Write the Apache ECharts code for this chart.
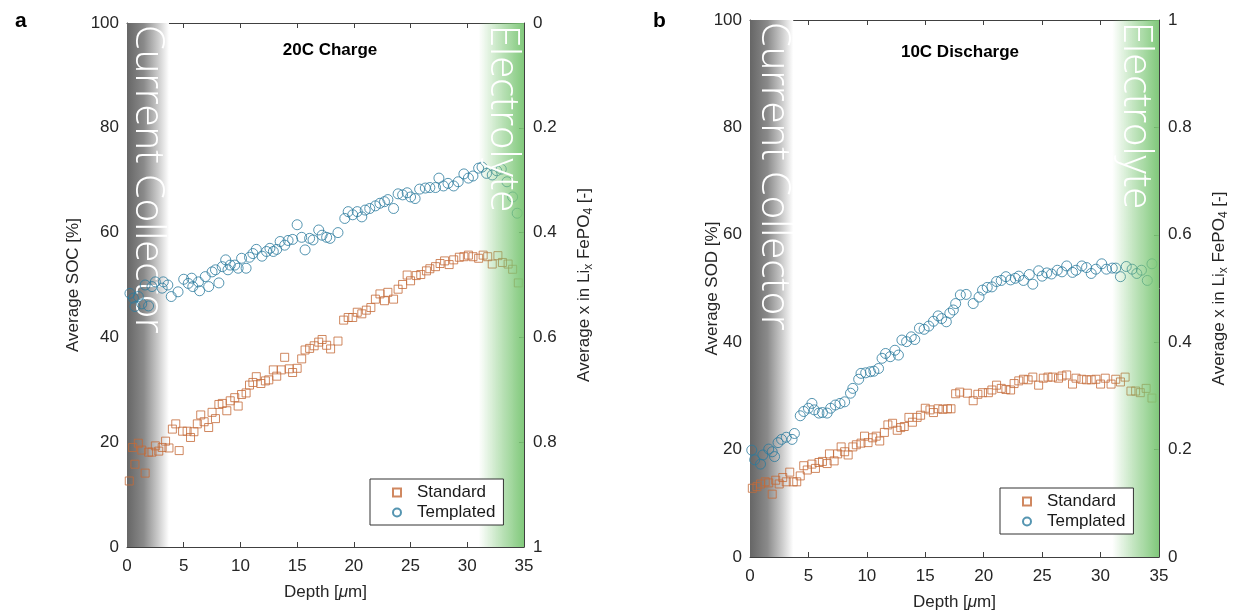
<!DOCTYPE html>
<html>
<head>
<meta charset="utf-8">
<script src="https://cdn.jsdelivr.net/npm/echarts@6/dist/echarts.min.js"></script>
<style>
  html, body { margin: 0; padding: 0; background: #fff; }
  #main { width: 1237px; height: 616px; }
</style>
</head>
<body>
<div id="main"></div>
<script>
// panel a - 20C charge
var depthA_std = [0.2, 0.5, 0.7, 1.0, 1.3, 1.6, 1.9, 2.2, 2.5, 2.8, 3.1, 3.4, 3.7, 4.0, 4.3, 4.6, 4.9, 5.3, 5.6, 5.9,
  6.2, 6.5, 6.8, 7.2, 7.5, 7.8, 8.1, 8.4, 8.8, 9.1, 9.5, 9.8, 10.1, 10.5, 10.8, 11.1, 11.4, 11.8, 12.2, 12.5,
  12.9, 13.2, 13.6, 13.9, 14.3, 14.6, 15.0, 15.4, 15.7, 16.1, 16.5, 16.9, 17.2, 17.6, 17.95, 18.6, 19.1, 19.5, 19.9, 20.3,
  20.7, 21.1, 21.5, 21.9, 22.3, 22.7, 23.0, 23.5, 23.9, 24.3, 24.7, 25.0, 25.5, 25.9, 26.4, 26.7, 27.2, 27.6, 28.0, 28.4,
  28.8, 29.3, 29.7, 30.1, 30.5, 31.0, 31.4, 31.8, 32.2, 32.7, 33.1, 33.6, 34.0, 34.5];
var socA_std = [12.6, 19.0, 15.8, 19.8, 18.5, 14.1, 18.1, 18.1, 19.3, 18.3, 19.0, 20.2, 18.9, 22.5, 23.5, 18.4, 22.1, 22.1, 20.9, 22.0,
  23.5, 25.2, 23.9, 22.8, 25.7, 24.5, 27.2, 27.4, 26.0, 27.9, 28.5, 26.9, 29.1, 29.4, 30.9, 31.4, 32.5, 31.2, 31.7, 31.9,
  33.8, 32.6, 33.8, 36.2, 34.0, 33.3, 34.1, 35.9, 37.6, 37.9, 38.4, 39.1, 39.6, 38.5, 37.8, 39.3, 43.3, 43.8, 43.8, 44.8,
  44.5, 45.2, 45.7, 47.3, 48.3, 47.0, 48.6, 47.3, 49.2, 50.1, 51.9, 50.8, 51.8, 52.0, 52.7, 53.1, 53.5, 54.1, 54.6, 53.9,
  54.8, 55.3, 55.4, 55.7, 55.4, 55.1, 55.7, 55.4, 54.0, 55.6, 54.3, 54.0, 53.0, 50.4];
var depthA_tpl = [0.26, 0.56, 0.7, 1.0, 1.3, 1.6, 1.9, 2.2, 2.5, 3.1, 3.2, 3.6, 3.9, 4.5, 5.0, 5.4, 5.7, 5.8, 6.3, 6.4,
  6.9, 7.2, 7.5, 7.8, 8.1, 8.4, 8.7, 8.9, 9.1, 9.5, 9.8, 10.1, 10.5, 10.8, 11.1, 11.4, 11.9, 12.3, 12.6, 12.9,
  13.2, 13.5, 13.9, 14.2, 14.6, 15.0, 15.4, 15.7, 16.1, 16.4, 16.9, 17.2, 17.6, 17.9, 18.6, 19.2, 19.5, 19.9, 20.3, 20.7,
  21.0, 21.4, 21.9, 22.3, 22.7, 23.0, 23.5, 23.9, 24.3, 24.7, 25.0, 25.4, 25.8, 26.3, 26.7, 27.2, 27.5, 27.9, 28.3, 28.8,
  29.2, 29.7, 30.1, 30.5, 31.0, 31.3, 31.7, 32.2, 32.6, 33.0, 33.5, 34.0, 34.4];
var socA_tpl = [48.4, 47.5, 45.9, 47.8, 46.4, 50.0, 46.0, 49.7, 50.6, 49.4, 50.6, 50.0, 47.8, 48.7, 51.1, 50.3, 51.3, 49.7, 50.6, 48.9,
  51.6, 49.7, 52.5, 52.9, 50.4, 53.5, 54.8, 52.9, 53.8, 53.8, 53.2, 55.1, 53.2, 55.3, 56.0, 56.8, 55.5, 56.4, 57.0, 56.4,
  56.8, 58.3, 57.6, 58.5, 58.7, 61.5, 59.1, 56.7, 58.9, 58.6, 60.5, 59.5, 59.1, 58.9, 60.0, 62.7, 64.0, 63.4, 64.0, 63.0,
  64.3, 64.6, 65.1, 65.6, 65.9, 66.3, 64.6, 67.4, 67.2, 67.6, 66.8, 66.5, 68.3, 68.5, 68.6, 68.6, 70.4, 68.9, 69.4, 68.9,
  69.7, 71.2, 70.4, 70.8, 72.3, 72.5, 71.3, 71.0, 71.8, 72.1, 69.7, 66.8, 63.7];

// panel b - 10C discharge
var depthB_std = [0.2, 0.6, 0.9, 1.3, 1.6, 1.9, 2.2, 2.5, 2.8, 3.1, 3.4, 3.7, 4.0, 4.3, 4.6, 4.9, 5.3, 5.6, 5.9, 6.2,
  6.6, 6.8, 7.2, 7.5, 7.8, 8.1, 8.4, 8.8, 9.1, 9.5, 9.8, 10.1, 10.5, 10.8, 11.1, 11.5, 11.8, 12.2, 12.6, 12.9,
  13.2, 13.6, 13.9, 14.3, 14.6, 15.0, 15.4, 15.7, 16.1, 16.5, 16.9, 17.2, 17.6, 17.95, 18.6, 19.1, 19.5, 19.9, 20.4, 20.7,
  21.1, 21.5, 21.9, 22.3, 22.6, 23.0, 23.4, 23.8, 24.2, 24.7, 25.1, 25.5, 25.9, 26.4, 26.7, 27.1, 27.6, 27.9, 28.4, 28.8,
  29.2, 29.6, 30.0, 30.4, 30.9, 31.3, 31.7, 32.1, 32.6, 33.0, 33.4, 33.9, 34.4];
var sodB_std = [12.8, 13.1, 13.6, 14.0, 13.8, 11.7, 14.3, 13.6, 14.8, 14.0, 15.8, 14.0, 14.0, 15.1, 17.0, 16.2, 17.3, 16.5, 17.6, 17.8,
  17.4, 19.2, 17.9, 19.2, 20.5, 19.6, 19.0, 20.5, 20.9, 21.2, 22.5, 21.3, 22.2, 22.5, 21.6, 23.2, 24.6, 24.9, 23.6, 24.1,
  24.3, 26.0, 25.1, 26.0, 26.4, 27.7, 27.4, 26.9, 27.6, 27.5, 27.6, 27.6, 30.4, 30.7, 30.5, 29.1, 30.3, 30.6, 30.6, 31.1,
  32.0, 31.4, 31.2, 31.1, 32.3, 32.8, 33.1, 33.0, 33.5, 32.0, 33.3, 33.5, 33.5, 33.3, 33.7, 33.9, 32.2, 33.3, 33.1, 33.0,
  33.0, 33.1, 32.2, 33.3, 32.2, 33.1, 32.6, 33.5, 30.9, 30.9, 30.6, 31.4, 29.6];
var depthB_tpl = [0.15, 0.4, 0.9, 1.1, 1.6, 1.9, 2.1, 2.4, 2.7, 3.1, 3.6, 3.8, 4.3, 4.6, 5.0, 5.3, 5.5, 5.9, 6.2, 6.6,
  6.9, 7.3, 7.7, 8.1, 8.6, 8.8, 9.3, 9.5, 9.9, 10.3, 10.6, 11.0, 11.3, 11.6, 12.0, 12.4, 12.7, 13.0, 13.4, 13.8,
  14.1, 14.5, 14.9, 15.3, 15.7, 16.1, 16.4, 16.8, 17.1, 17.4, 17.6, 18.0, 18.5, 19.1, 19.6, 19.9, 20.3, 20.7, 21.1, 21.5,
  21.9, 22.3, 22.7, 23.0, 23.4, 23.9, 24.2, 24.7, 25.0, 25.4, 25.8, 26.3, 26.7, 27.1, 27.6, 27.9, 28.4, 28.8, 29.2, 29.6,
  30.1, 30.5, 31.0, 31.3, 31.7, 32.2, 32.7, 33.1, 33.5, 34.0, 34.4];
var sodB_tpl = [19.9, 18.1, 17.3, 19.0, 20.1, 19.6, 18.7, 21.3, 21.9, 22.3, 21.9, 23.0, 26.3, 27.1, 27.7, 28.6, 27.4, 26.8, 26.9, 26.8,
  27.7, 28.3, 28.6, 28.9, 30.5, 31.4, 33.1, 34.2, 34.3, 34.5, 34.6, 35.1, 37.0, 37.9, 37.3, 38.5, 37.6, 40.4, 40.1, 41.0,
  40.5, 42.6, 42.4, 43.0, 43.9, 44.9, 44.4, 43.8, 45.4, 46.0, 47.2, 48.8, 48.9, 47.2, 48.4, 49.7, 50.2, 50.3, 51.3, 51.5,
  52.2, 51.6, 51.9, 52.3, 51.5, 52.6, 50.8, 53.3, 52.3, 52.9, 52.7, 53.4, 53.1, 54.2, 53.0, 53.4, 54.2, 53.9, 52.8, 53.6,
  54.6, 53.6, 53.8, 53.8, 52.2, 54.1, 53.6, 52.8, 53.4, 51.5, 54.6];

var xTicks = { min: 0, max: 35, interval: 5 };
var pctTicks = { min: 0, max: 100, interval: 20 };
var fracTicks = { min: 0, max: 1, interval: 0.2 };
var ccRange = [0, 3.7];      // current collector shading
var elRange = [31, 35];      // electrolyte shading

var stdColor = "#c46a38";
var tplColor = "#2b7b9e";
var axisColor = "#404040";
var txtColor = "#262626";
var font = "Liberation Sans, Arial, sans-serif";

function zip(xs, ys) {
  return xs.map(function(x, i) { return [x, ys[i]]; });
}

var grids = [
  { left: 127, top: 23, width: 397, height: 524 },
  { left: 750, top: 20, width: 409, height: 537 }
];

function xAxes(gi) {
  return [
    {
      gridIndex: gi, type: "value", min: xTicks.min, max: xTicks.max, interval: xTicks.interval,
      position: "bottom",
      axisLine: { show: true, onZero: false, lineStyle: { color: axisColor } },
      axisTick: { show: true, inside: true, length: 5, lineStyle: { color: axisColor } },
      axisLabel: { fontSize: 17, color: txtColor, fontFamily: font, margin: 11 },
      splitLine: { show: false },
      name: "Depth [{i|μ}m]", nameLocation: "middle", nameGap: 37,
      nameTextStyle: {
        fontSize: 17, color: txtColor, fontFamily: font,
        rich: { i: { fontSize: 17, fontStyle: "italic", color: txtColor, fontFamily: font } }
      }
    },
    {
      gridIndex: gi, type: "value", min: xTicks.min, max: xTicks.max, interval: xTicks.interval,
      position: "top",
      axisLine: { show: true, onZero: false, lineStyle: { color: axisColor } },
      axisTick: { show: true, inside: true, length: 5, lineStyle: { color: axisColor } },
      axisLabel: { show: false },
      splitLine: { show: false }
    }
  ];
}

var subRich = {
  sub: { fontSize: 12, color: txtColor, fontFamily: font, verticalAlign: "bottom", padding: [9, 0, 0, 0] }
};

function yAxes(gi, leftName, leftGap, inverse) {
  return [
    {
      gridIndex: gi, type: "value", min: pctTicks.min, max: pctTicks.max, interval: pctTicks.interval,
      position: "left",
      axisLine: { show: true, onZero: false, lineStyle: { color: axisColor } },
      axisTick: { show: true, inside: true, length: 5, lineStyle: { color: axisColor } },
      axisLabel: { fontSize: 17, color: txtColor, fontFamily: font, margin: 8 },
      splitLine: { show: false },
      name: leftName, nameLocation: "middle", nameRotate: 90, nameGap: leftGap,
      nameMoveOverlap: false,
      nameTextStyle: { fontSize: 17, color: txtColor, fontFamily: font }
    },
    {
      gridIndex: gi, type: "value", min: fracTicks.min, max: fracTicks.max, interval: fracTicks.interval,
      position: "right", inverse: inverse,
      axisLine: { show: true, onZero: false, lineStyle: { color: axisColor } },
      axisTick: { show: true, inside: true, length: 5, lineStyle: { color: axisColor } },
      axisLabel: { fontSize: 17, color: txtColor, fontFamily: font, margin: 9 },
      splitLine: { show: false },
      name: "Average x in Li{sub|x} FePO{sub|4} [-]", nameLocation: "middle", nameRotate: 90, nameGap: 50,
      nameTextStyle: { fontSize: 17, color: txtColor, fontFamily: font, rich: subRich }
    }
  ];
}

function shade(range, stops, z) {
  return {
    silent: true,
    z: z,
    itemStyle: {
      color: new echarts.graphic.LinearGradient(0, 0, 1, 0, stops)
    },
    data: [[{ xAxis: range[0] }, { xAxis: range[1] }]]
  };
}

var grayStops = [
  { offset: 0, color: "#666666" },
  { offset: 0.4, color: "#8a8a8a" },
  { offset: 0.75, color: "#cdcdcd" },
  { offset: 1, color: "#ffffff" }
];
var greenStops = [
  { offset: 0, color: "rgba(122,198,116,0)" },
  { offset: 0.45, color: "rgba(122,198,116,0.45)" },
  { offset: 1, color: "rgba(122,198,116,0.95)" }
];

function scatter(name, data, gi, symbol, size, color, area) {
  var s = {
    name: name, type: "scatter", xAxisIndex: gi * 2, yAxisIndex: gi * 2,
    data: data, symbol: symbol, symbolSize: size, z: 2,
    itemStyle: { color: "rgba(0,0,0,0)", borderColor: color, borderWidth: 1 }
  };
  if (area) s.markArea = area;
  return s;
}

var chart = echarts.init(document.getElementById("main"));

function sideText(text, x, y, z) {
  return {
    type: "text", x: x, y: y, rotation: -Math.PI / 2, z: z, silent: true,
    style: {
      text: text, fill: "#fff", fontSize: 40, fontWeight: 300,
      fontFamily: "Open Sans, Lato, sans-serif", align: "left", verticalAlign: "middle"
    }
  };
}

var legendBase = {
  orient: "vertical", padding: [5, 8, 4, 22], itemGap: 3, itemWidth: 8, itemHeight: 8,
  backgroundColor: "#fff", borderColor: "#333", borderWidth: 1,
  textStyle: { fontSize: 17, color: "#1a1a1a", fontFamily: font, padding: [0, 0, 0, 11] },
  data: ["Standard", "Templated"]
};

var option = {
  animation: false,
  grid: grids,
  title: [
    { text: "a", left: 10, top: 6, textStyle: { fontSize: 21, fontWeight: "bold", color: "#000", fontFamily: font } },
    { text: "b", left: 648, top: 6, textStyle: { fontSize: 21, fontWeight: "bold", color: "#000", fontFamily: font } },
    { text: "20C Charge", left: 325, top: 37, textAlign: "center",
      textStyle: { fontSize: 17, fontWeight: "bold", color: "#000", fontFamily: font } },
    { text: "10C Discharge", left: 955, top: 39, textAlign: "center",
      textStyle: { fontSize: 17, fontWeight: "bold", color: "#000", fontFamily: font } }
  ],
  legend: [
    Object.assign({}, legendBase, { left: 370, top: 479 }),
    Object.assign({}, legendBase, { left: 1000, top: 488 })
  ],
  xAxis: xAxes(0).concat(xAxes(1)),
  yAxis: yAxes(0, "Average SOC [%]", 45, true).concat(yAxes(1, "Average SOD [%]", 29, false)),
  graphic: [
    sideText("Current Collector", 147, 25, 1.5),
    sideText("Electrolyte", 502, 25, 4),
    sideText("Current Collector", 773, 22, 1.5),
    sideText("Electrolyte", 1135, 22, 4)
  ],
  series: [
    scatter("Standard", zip(depthA_std, socA_std), 0, "rect", 8, stdColor, shade(ccRange, grayStops, 1)),
    scatter("Templated", zip(depthA_tpl, socA_tpl), 0, "circle", 10, tplColor, shade(elRange, greenStops, 3)),
    scatter("Standard", zip(depthB_std, sodB_std), 1, "rect", 8, stdColor, shade(ccRange, grayStops, 1)),
    scatter("Templated", zip(depthB_tpl, sodB_tpl), 1, "circle", 10, tplColor, shade(elRange, greenStops, 3))
  ]
};

chart.setOption(option);
window.addEventListener("resize", function() {
  chart.resize();
});
</script>
</body>
</html>
